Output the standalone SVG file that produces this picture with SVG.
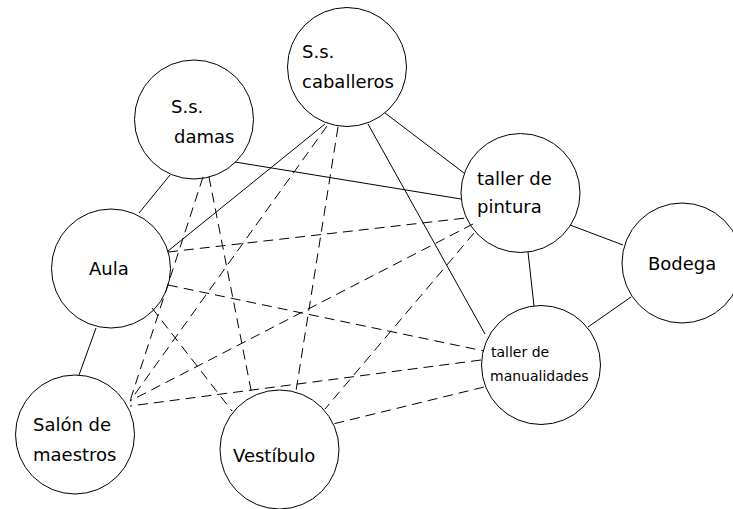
<svg xmlns="http://www.w3.org/2000/svg" width="733" height="509" viewBox="0 0 733 509">
<style>
.n{fill:#fff;stroke:#000;stroke-width:1}
.t{font-family:"DejaVu Sans",sans-serif;font-size:18px;fill:#000}
.s{font-size:14px}
.e{stroke:#000;stroke-width:1;fill:none}
.d{stroke-dasharray:10,6}
</style>
<rect width="733" height="509" fill="#fff"/>
<g id="connectors">
<line class="e" x1="170" y1="175" x2="139" y2="213"/>
<line class="e" x1="235" y1="162" x2="461" y2="199"/>
<line class="e" x1="385" y1="113" x2="464" y2="173"/>
<line class="e" x1="325" y1="124" x2="168" y2="251"/>
<line class="e" x1="368" y1="124" x2="485" y2="334"/>
<line class="e" x1="570" y1="225" x2="623" y2="245"/>
<line class="e" x1="528" y1="252" x2="534" y2="306"/>
<line class="e" x1="631" y1="297" x2="588" y2="327"/>
<line class="e" x1="96" y1="328" x2="79" y2="375"/>
<line class="e d" x1="203" y1="177" x2="130" y2="401"/>
<line class="e d" x1="209" y1="177" x2="252" y2="395"/>
<line class="e d" x1="327" y1="126" x2="130" y2="401"/>
<line class="e d" x1="338" y1="127" x2="296" y2="391"/>
<line class="e d" x1="168" y1="252" x2="466" y2="218"/>
<line class="e d" x1="168" y1="285" x2="484" y2="351"/>
<line class="e d" x1="152" y1="308" x2="232" y2="411"/>
<line class="e d" x1="473" y1="224" x2="130" y2="401"/>
<line class="e d" x1="474" y1="233" x2="325" y2="409"/>
<line class="e d" x1="481" y1="360" x2="130" y2="406"/>
<line class="e d" x1="484" y1="387" x2="333" y2="424"/>
</g>
<g id="caballeros"><circle class="n" cx="347" cy="67" r="59.5" fill-opacity="0"/><text class="t" x="302" y="58">S.s.</text><text class="t" x="302" y="88">caballeros</text></g>
<g id="damas"><circle class="n" cx="194" cy="119.5" r="59.5" fill-opacity="0"/><text class="t" x="171" y="113">S.s.</text><text class="t" x="174" y="143">damas</text></g>
<g id="aula"><circle class="n" cx="111" cy="268.5" r="59.5" fill-opacity="0"/><text class="t" x="89" y="275">Aula</text></g>
<g id="pintura"><circle class="n" cx="520.5" cy="193" r="59.5" fill-opacity="0"/><text class="t" x="477" y="185">taller de</text><text class="t" x="477" y="213">pintura</text></g>
<g id="bodega"><circle class="n" cx="682" cy="263" r="60" fill-opacity="0"/><text class="t" x="648" y="270">Bodega</text></g>
<g id="manualidades"><circle class="n" cx="541" cy="365" r="59.5" fill-opacity="0"/><text class="t s" x="491" y="357">taller de</text><text class="t s" x="490" y="381">manualidades</text></g>
<g id="salon"><circle class="n" cx="75" cy="434.5" r="59.5" fill-opacity="0"/><text class="t" x="33" y="431">Salón de</text><text class="t" x="33" y="461">maestros</text></g>
<g id="vestibulo"><circle class="n" cx="279.5" cy="449.5" r="59.5" fill-opacity="0"/><text class="t" x="233" y="462">Vestíbulo</text></g>
</svg>
